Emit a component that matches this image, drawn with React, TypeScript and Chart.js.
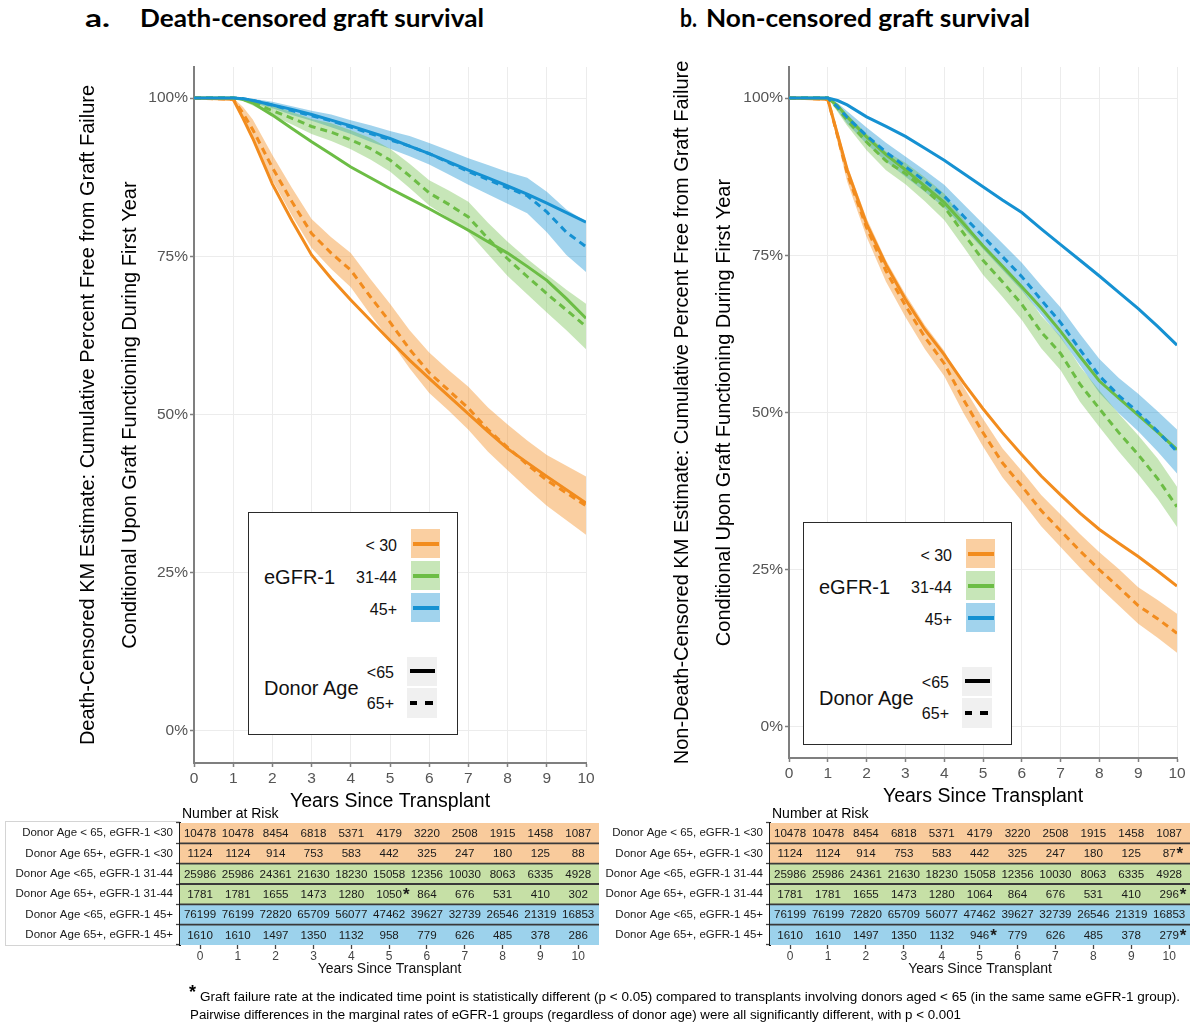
import React, { useEffect, useLayoutEffect, useRef } from 'react';
import { Chart, registerables } from 'chart.js';

Chart.register(...registerables);

const SANS = '"Liberation Sans", Arial, Helvetica, sans-serif';
const TITLE_FONT = 'Lato, "Open Sans", sans-serif';

// ---------------- data ----------------
const years = [0, 1, 1.25, 1.5, 2, 2.5, 3, 3.5, 4, 4.5, 5, 5.5, 6, 6.5, 7, 7.5, 8, 8.5, 9, 9.5, 10];
const axisYears = [0, 1, 2, 3, 4, 5, 6, 7, 8, 9, 10];
const pctTicks = [0, 25, 50, 75, 100];
const egfrLabels = ['< 30', '31-44', '45+'];
const donorAgeLabels = ['<65', '65+'];

// Panel a: death-censored graft survival (%)
const a_lt30_u65 = [100, 99.8, 96.8, 93.6, 86.4, 80.6, 75.2, 71.5, 68.1, 64.9, 61.7, 58.6, 55.7, 52.9, 50.1, 47.3, 44.6, 42.4, 40.2, 38.1, 36.0];
const a_lt30_65p = [100, 99.8, 97.6, 95.0, 89.0, 83.6, 78.6, 75.5, 72.8, 68.6, 64.6, 60.3, 56.6, 53.8, 51.0, 47.6, 44.8, 42.1, 39.6, 37.6, 35.6];
const a_lt30_65p_lo = [100, 99.6, 96.5, 93.4, 87.0, 81.4, 76.3, 73.0, 70.1, 65.8, 61.7, 57.3, 53.4, 50.6, 47.6, 44.1, 41.2, 38.3, 35.6, 33.3, 31.0];
const a_lt30_65p_hi = [100, 100, 98.6, 96.6, 91.0, 85.8, 80.9, 78.0, 75.5, 71.4, 67.5, 63.3, 59.8, 57.0, 54.4, 51.1, 48.4, 45.9, 43.6, 41.9, 40.2];

const a_mid_u65 = [100, 100, 99.8, 99.2, 97.3, 95.2, 93.1, 91.1, 89.1, 87.4, 85.7, 84.1, 82.5, 80.8, 79.1, 77.3, 75.5, 73.4, 71.2, 68.3, 65.2];
const a_mid_65p = [100, 100, 99.8, 99.3, 98.0, 96.8, 95.5, 94.6, 93.4, 92.0, 90.2, 87.7, 85.0, 83.2, 81.2, 77.8, 74.6, 71.8, 69.1, 66.5, 63.9];
const a_mid_65p_lo = [100, 100, 99.5, 98.8, 97.2, 95.8, 94.3, 93.2, 91.9, 90.3, 88.4, 85.8, 83.0, 81.0, 78.8, 75.3, 71.9, 69.0, 66.1, 63.3, 60.3];
const a_mid_65p_hi = [100, 100, 100, 99.8, 98.8, 97.8, 96.7, 96.0, 94.9, 93.7, 92.0, 89.6, 87.0, 85.4, 83.6, 80.3, 77.3, 74.6, 72.1, 69.7, 67.5];

const a_hi_u65 = [100, 100, 99.9, 99.6, 98.9, 98.2, 97.4, 96.5, 95.6, 94.6, 93.6, 92.4, 91.2, 89.9, 88.6, 87.4, 86.1, 84.8, 83.4, 81.9, 80.4];
const a_hi_65p = [100, 100, 99.9, 99.6, 98.9, 98.0, 97.2, 96.4, 95.4, 94.4, 93.4, 92.4, 91.2, 89.8, 88.4, 87.1, 85.8, 84.6, 82.0, 78.8, 76.5];
const a_hi_65p_lo = [100, 100, 99.7, 99.2, 98.4, 97.3, 96.4, 95.4, 94.3, 93.1, 92.0, 90.8, 89.5, 87.9, 86.3, 84.8, 83.3, 81.8, 78.8, 75.2, 72.5];
const a_hi_65p_hi = [100, 100, 100, 99.9, 99.4, 98.7, 98.0, 97.4, 96.5, 95.7, 94.8, 94.0, 92.9, 91.7, 90.5, 89.4, 88.3, 87.4, 85.2, 82.4, 80.5];

// Panel b: non-censored graft survival (%)
const b_lt30_u65 = [100, 99.8, 94.2, 88.6, 80.0, 73.5, 68.0, 63.2, 59.2, 54.7, 50.6, 46.8, 43.3, 39.9, 36.9, 34.0, 31.4, 29.2, 27.1, 24.8, 22.4];
const b_lt30_65p = [100, 99.8, 94.0, 88.0, 79.4, 72.5, 67.0, 62.0, 57.8, 52.0, 46.8, 42.0, 38.3, 34.4, 31.2, 28.0, 25.0, 22.2, 19.3, 17.2, 14.9];
const b_lt30_65p_lo = [100, 99.6, 93.0, 86.7, 77.9, 70.8, 65.2, 60.1, 55.8, 49.9, 44.6, 39.7, 35.9, 31.9, 28.6, 25.3, 22.2, 19.3, 16.4, 14.2, 11.8];
const b_lt30_65p_hi = [100, 100, 95.0, 89.3, 80.9, 74.2, 68.8, 63.9, 59.8, 54.1, 49.0, 44.3, 40.7, 36.9, 33.8, 30.7, 27.8, 25.1, 22.2, 20.2, 18.0];

const b_mid_u65 = [100, 100, 98.8, 97.0, 93.8, 91.0, 88.6, 86.0, 83.4, 80.0, 76.5, 73.3, 70.0, 66.6, 62.9, 58.9, 55.0, 52.3, 49.6, 46.9, 44.1];
const b_mid_65p = [100, 100, 98.4, 96.5, 93.0, 90.0, 88.0, 85.5, 82.7, 78.5, 74.2, 70.8, 67.2, 62.8, 59.4, 54.5, 50.6, 46.8, 43.3, 39.5, 35.0];
const b_mid_65p_lo = [100, 100, 97.8, 95.6, 91.7, 88.5, 86.3, 83.6, 80.6, 76.3, 71.9, 68.4, 64.7, 60.2, 56.7, 51.7, 47.7, 43.8, 40.2, 36.3, 31.8];
const b_mid_65p_hi = [100, 100, 99.0, 97.4, 94.3, 91.5, 89.7, 87.4, 84.8, 80.7, 76.5, 73.2, 69.7, 65.4, 62.1, 57.3, 53.5, 49.8, 46.4, 42.7, 38.2];

const b_hi_u65 = [100, 100, 99.6, 98.9, 97.0, 95.5, 93.9, 92.0, 90.1, 88.0, 85.9, 83.8, 81.8, 79.2, 76.7, 74.2, 71.7, 69.1, 66.5, 63.7, 60.7];
const b_hi_65p = [100, 100, 98.6, 96.9, 94.0, 91.4, 89.1, 86.8, 84.4, 81.2, 78.0, 74.8, 71.6, 67.9, 64.3, 60.0, 55.8, 52.7, 50.0, 47.0, 43.8];
const b_hi_65p_lo = [100, 100, 98.0, 95.9, 92.7, 89.9, 87.5, 85.1, 82.6, 79.3, 76.0, 72.7, 69.4, 65.6, 61.9, 57.5, 53.1, 49.9, 47.0, 43.8, 40.3];
const b_hi_65p_hi = [100, 100, 99.2, 97.9, 95.3, 92.9, 90.7, 88.5, 86.2, 83.1, 80.0, 76.9, 73.8, 70.2, 66.7, 62.5, 58.5, 55.5, 53.0, 50.2, 47.3];

// Number at risk tables
const riskRowLabels = [
  'Donor Age < 65, eGFR-1 <30',
  'Donor Age 65+, eGFR-1 <30',
  'Donor Age <65, eGFR-1 31-44',
  'Donor Age 65+, eGFR-1 31-44',
  'Donor Age <65, eGFR-1 45+',
  'Donor Age 65+, eGFR-1 45+',
];
const riskA_lt30_u65 = [10478, 10478, 8454, 6818, 5371, 4179, 3220, 2508, 1915, 1458, 1087];
const riskA_lt30_65p = [1124, 1124, 914, 753, 583, 442, 325, 247, 180, 125, 88];
const riskA_mid_u65 = [25986, 25986, 24361, 21630, 18230, 15058, 12356, 10030, 8063, 6335, 4928];
const riskA_mid_65p = [1781, 1781, 1655, 1473, 1280, 1050, 864, 676, 531, 410, 302];
const riskA_hi_u65 = [76199, 76199, 72820, 65709, 56077, 47462, 39627, 32739, 26546, 21319, 16853];
const riskA_hi_65p = [1610, 1610, 1497, 1350, 1132, 958, 779, 626, 485, 378, 286];
const riskA_stars = [[3, 5]];

const riskB_lt30_u65 = [10478, 10478, 8454, 6818, 5371, 4179, 3220, 2508, 1915, 1458, 1087];
const riskB_lt30_65p = [1124, 1124, 914, 753, 583, 442, 325, 247, 180, 125, 87];
const riskB_mid_u65 = [25986, 25986, 24361, 21630, 18230, 15058, 12356, 10030, 8063, 6335, 4928];
const riskB_mid_65p = [1781, 1781, 1655, 1473, 1280, 1064, 864, 676, 531, 410, 296];
const riskB_hi_u65 = [76199, 76199, 72820, 65709, 56077, 47462, 39627, 32739, 26546, 21319, 16853];
const riskB_hi_65p = [1610, 1610, 1497, 1350, 1132, 946, 779, 626, 485, 378, 279];
const riskB_stars = [[1, 10], [3, 10], [5, 5], [5, 10]];

// ---------------- styles ----------------
const LINE = ['#F28C1E', '#6CBD45', '#1591D2'];
const BAND = ['rgba(242,140,30,0.42)', 'rgba(108,189,69,0.38)', 'rgba(21,145,210,0.40)'];
const ROWBG = ['#F9CB9C', '#F9CB9C', '#C6E0A6', '#C6E0A6', '#9CD2EC', '#9CD2EC'];

type Group = { color: string; band: string; solid: number[]; dashed: number[]; lower: number[]; upper: number[] };

const groupsA: Group[] = [
  { color: LINE[0], band: BAND[0], solid: a_lt30_u65, dashed: a_lt30_65p, lower: a_lt30_65p_lo, upper: a_lt30_65p_hi },
  { color: LINE[1], band: BAND[1], solid: a_mid_u65, dashed: a_mid_65p, lower: a_mid_65p_lo, upper: a_mid_65p_hi },
  { color: LINE[2], band: BAND[2], solid: a_hi_u65, dashed: a_hi_65p, lower: a_hi_65p_lo, upper: a_hi_65p_hi },
];
const groupsB: Group[] = [
  { color: LINE[0], band: BAND[0], solid: b_lt30_u65, dashed: b_lt30_65p, lower: b_lt30_65p_lo, upper: b_lt30_65p_hi },
  { color: LINE[1], band: BAND[1], solid: b_mid_u65, dashed: b_mid_65p, lower: b_mid_65p_lo, upper: b_mid_65p_hi },
  { color: LINE[2], band: BAND[2], solid: b_hi_u65, dashed: b_hi_65p, lower: b_hi_65p_lo, upper: b_hi_65p_hi },
];

// ---------------- components ----------------
function FitText(props: { text: string; x: number; cy: number; w?: number; size: number; weight?: number; family?: string; color?: string }) {
  const { text, x, cy, w, size, weight = 400, family = SANS, color = '#000' } = props;
  const ref = useRef<HTMLDivElement>(null);
  useLayoutEffect(() => {
    const el = ref.current;
    if (!el || !w) return;
    el.style.transform = 'none';
    const nat = el.getBoundingClientRect().width;
    if (nat > 0) el.style.transform = `scaleX(${w / nat})`;
  }, [text, w]);
  const h = Math.round(size * 1.3);
  return (
    <div
      ref={ref}
      style={{
        position: 'absolute', left: x, top: cy - h / 2, height: h, lineHeight: h + 'px',
        fontSize: size, fontWeight: weight, fontFamily: family, color, whiteSpace: 'nowrap',
        transformOrigin: 'left center',
      }}
    >
      {text}
    </div>
  );
}

type KMGeo = {
  left: number; top: number; width: number; height: number;
  padTop: number; padRight: number; yW: number; xH: number;
  yMin: number; yMax: number; yTitlePad: number; xTitlePad: number;
};

function KMChart({ groups, yTitle, geo }: { groups: Group[]; yTitle: string[]; geo: KMGeo }) {
  const ref = useRef<HTMLCanvasElement>(null);
  useEffect(() => {
    const pts = (arr: number[]) => arr.map((v, i) => ({ x: years[i], y: v }));
    const datasets: any[] = [];
    groups.forEach((g) => {
      datasets.push({ data: pts(g.lower), borderWidth: 0, borderColor: 'rgba(0,0,0,0)', backgroundColor: 'rgba(0,0,0,0)', pointRadius: 0, fill: false, order: 20 });
      datasets.push({ data: pts(g.upper), borderWidth: 0, borderColor: 'rgba(0,0,0,0)', backgroundColor: g.band, pointRadius: 0, fill: '-1', order: 20 });
    });
    groups.forEach((g, i) => {
      datasets.push({ data: pts(g.solid), borderColor: g.color, borderWidth: 3, pointRadius: 0, fill: false, order: 10 - i, tension: 0 });
    });
    groups.forEach((g, i) => {
      datasets.push({ data: pts(g.dashed), borderColor: g.color, borderWidth: 3, borderDash: [7, 5], pointRadius: 0, fill: false, order: 5 - i, tension: 0 });
    });
    const chart = new Chart(ref.current as HTMLCanvasElement, {
      type: 'line',
      data: { datasets },
      options: {
        animation: false,
        responsive: false,
        events: [],
        layout: { padding: { left: 0, top: geo.padTop, right: geo.padRight, bottom: 0 } },
        plugins: { legend: { display: false }, tooltip: { enabled: false }, title: { display: false } },
        scales: {
          x: {
            type: 'linear', min: 0, max: 10,
            afterBuildTicks: (s: any) => { s.ticks = axisYears.map((v) => ({ value: v })); },
            afterFit: (s: any) => { s.height = geo.xH; },
            grid: { color: '#ececec', lineWidth: 1, tickColor: '#7f7f7f', tickLength: 4, tickWidth: 1.5 },
            border: { color: '#7f7f7f', width: 2 },
            ticks: { font: { family: SANS, size: 15.5 }, color: '#555', padding: 2, maxRotation: 0, autoSkip: false },
            title: { display: true, text: 'Years Since Transplant', font: { family: SANS, size: 19.5 }, color: '#000', padding: { top: 0, bottom: geo.xTitlePad } },
          },
          y: {
            type: 'linear', min: geo.yMin, max: geo.yMax,
            afterBuildTicks: (s: any) => { s.ticks = pctTicks.map((v) => ({ value: v })); },
            afterFit: (s: any) => { s.width = geo.yW; },
            grid: { color: '#ececec', lineWidth: 1, tickColor: '#7f7f7f', tickLength: 4, tickWidth: 1.5 },
            border: { color: '#7f7f7f', width: 2 },
            ticks: { font: { family: SANS, size: 15.5 }, color: '#555', padding: 2, callback: (v: any) => v + '%' },
            title: { display: true, text: yTitle, font: { family: SANS, size: 20, lineHeight: 2.1 }, color: '#000', padding: { top: geo.yTitlePad, bottom: 0 } },
          },
        },
      } as any,
    });
    return () => chart.destroy();
  }, []);
  return (
    <canvas
      ref={ref}
      width={geo.width}
      height={geo.height}
      style={{ position: 'absolute', left: geo.left, top: geo.top, width: geo.width, height: geo.height }}
    />
  );
}

type TableGeo = { left: number; top: number; width: number; height: number; padTop: number; padRight: number; yW: number; xH: number; titlePad: number };
const tableMin = -0.53;
const tableMax = 10.55;

function RiskTable({ rows, stars, geo }: { rows: number[][]; stars: number[][]; geo: TableGeo }) {
  const ref = useRef<HTMLCanvasElement>(null);
  useEffect(() => {
    const numbers = {
      id: 'riskNumbers',
      afterDatasetsDraw(chart: any) {
        const { ctx, chartArea } = chart;
        const x = chart.scales.x;
        const y = chart.scales.y;
        ctx.save();
        ctx.strokeStyle = '#3a3a3a';
        ctx.lineWidth = 1.8;
        for (let r = 0; r < rows.length - 1; r++) {
          const yy = (y.getPixelForValue(r) + y.getPixelForValue(r + 1)) / 2;
          ctx.beginPath();
          ctx.moveTo(chartArea.left, yy);
          ctx.lineTo(chartArea.right, yy);
          ctx.stroke();
        }
        ctx.fillStyle = '#1a1a1a';
        ctx.textBaseline = 'middle';
        rows.forEach((row, r) => {
          row.forEach((n, c) => {
            ctx.font = `11.6px ${SANS}`;
            ctx.textAlign = 'center';
            ctx.fillText(String(n), x.getPixelForValue(axisYears[c]), y.getPixelForValue(r) + 0.5);
          });
        });
        stars.forEach(([r, c]) => {
          ctx.font = `11.6px ${SANS}`;
          const w = ctx.measureText(String(rows[r][c])).width;
          ctx.font = `bold 17px ${SANS}`;
          ctx.textAlign = 'left';
          ctx.fillText('*', x.getPixelForValue(axisYears[c]) + w / 2 + 1, y.getPixelForValue(r) + 1);
        });
        ctx.restore();
      },
    };
    const chart = new Chart(ref.current as HTMLCanvasElement, {
      type: 'bar',
      data: {
        labels: riskRowLabels,
        datasets: [{
          data: rows.map(() => [tableMin, tableMax]),
          backgroundColor: ROWBG,
          borderWidth: 0,
          barPercentage: 1,
          categoryPercentage: 1,
        }],
      },
      options: {
        indexAxis: 'y',
        animation: false,
        responsive: false,
        events: [],
        layout: { padding: { left: 0, top: geo.padTop, right: geo.padRight, bottom: 0 } },
        plugins: { legend: { display: false }, tooltip: { enabled: false } },
        scales: {
          x: {
            type: 'linear', min: tableMin, max: tableMax,
            afterBuildTicks: (s: any) => { s.ticks = axisYears.map((v) => ({ value: v })); },
            afterFit: (s: any) => { s.height = geo.xH; },
            grid: { drawOnChartArea: false, drawTicks: true, tickLength: 4, tickColor: '#444', tickWidth: 1.3 },
            border: { display: false },
            ticks: { font: { family: SANS, size: 12 }, color: '#444', padding: 0, maxRotation: 0, autoSkip: false },
            title: { display: true, text: 'Years Since Transplant', font: { family: SANS, size: 14 }, color: '#111', padding: { top: 0, bottom: geo.titlePad } },
          },
          y: {
            type: 'category',
            afterFit: (s: any) => { s.width = geo.yW; },
            grid: { drawOnChartArea: false, drawTicks: true, tickLength: 4, tickColor: '#444', tickWidth: 1.3 },
            border: { color: '#1a1a1a', width: 2 },
            ticks: { font: { family: SANS, size: 11.5 }, color: '#1a1a1a', padding: 3, autoSkip: false },
          },
        },
      } as any,
      plugins: [numbers],
    });
    return () => chart.destroy();
  }, []);
  return (
    <canvas
      ref={ref}
      width={geo.width}
      height={geo.height}
      style={{ position: 'absolute', left: geo.left, top: geo.top, width: geo.width, height: geo.height }}
    />
  );
}

function KMLegend({ x, y, w, h }: { x: number; y: number; w: number; h: number }) {
  const swTops = [17.5, 49.5, 81.5];
  const keyTops = [145, 176.5];
  const txt = (content: string, right: number, cy: number, size: number) => (
    <div style={{ position: 'absolute', right: w - right, top: cy - size * 0.65, height: size * 1.3, lineHeight: size * 1.3 + 'px', fontSize: size, whiteSpace: 'nowrap', textAlign: 'right' }}>{content}</div>
  );
  return (
    <div style={{ position: 'absolute', left: x, top: y, width: w, height: h, border: '1.5px solid #2a2a2a', background: '#fff', boxSizing: 'border-box', fontFamily: SANS, color: '#111' }}>
      <div style={{ position: 'absolute', left: 15, top: 64 - 13, height: 26, lineHeight: '26px', fontSize: 20, whiteSpace: 'nowrap' }}>eGFR-1</div>
      {egfrLabels.map((lab, i) => (
        <React.Fragment key={lab}>
          {txt(lab, 150, swTops[i] + 15.5, 16)}
          <div style={{ position: 'absolute', left: 162, top: swTops[i] - 1.5, width: 29, height: 29, background: BAND[i] }}>
            <div style={{ position: 'absolute', left: 1.5, right: 1.5, top: 13, height: 3.5, background: LINE[i] }} />
          </div>
        </React.Fragment>
      ))}
      <div style={{ position: 'absolute', left: 15, top: 175 - 13, height: 26, lineHeight: '26px', fontSize: 20, whiteSpace: 'nowrap' }}>Donor Age</div>
      {donorAgeLabels.map((lab, i) => (
        <React.Fragment key={lab}>
          {txt(lab, 147, keyTops[i] + 15, 16)}
          <div style={{ position: 'absolute', left: 158, top: keyTops[i] - 1.5, width: 30, height: 29.5, background: '#F0F0F0' }}>
            {i === 0 ? (
              <div style={{ position: 'absolute', left: 2.5, width: 25, top: 12.5, height: 3.5, background: '#000' }} />
            ) : (
              <>
                <div style={{ position: 'absolute', left: 2.5, width: 7, top: 13, height: 3.5, background: '#000' }} />
                <div style={{ position: 'absolute', left: 17.5, width: 8, top: 13, height: 3.5, background: '#000' }} />
              </>
            )}
          </div>
        </React.Fragment>
      ))}
    </div>
  );
}

export default function App() {
  useEffect(() => {
    document.body.style.margin = '0';
  }, []);

  const geoA: KMGeo = {
    left: 0, top: 50, width: 600, height: 770,
    padTop: 17, padRight: 14, yW: 194, xH: 57,
    yMin: -5.06, yMax: 104.9, yTitlePad: 67, xTitlePad: 6.3,
  };
  const geoB: KMGeo = {
    left: 597, top: 50, width: 597, height: 770,
    padTop: 17, padRight: 17, yW: 192, xH: 62,
    yMin: -4.93, yMax: 104.93, yTitlePad: 64, xTitlePad: 11.3,
  };
  const tGeoA: TableGeo = { left: 0, top: 800, width: 600, height: 186, padTop: 23, padRight: 1, yW: 180, xH: 41, titlePad: 8.6 };
  const tGeoB: TableGeo = { left: 597, top: 800, width: 597, height: 186, padTop: 23, padRight: 4, yW: 173, xH: 41, titlePad: 8.6 };

  const rowsA = [riskA_lt30_u65, riskA_lt30_65p, riskA_mid_u65, riskA_mid_65p, riskA_hi_u65, riskA_hi_65p];
  const rowsB = [riskB_lt30_u65, riskB_lt30_65p, riskB_mid_u65, riskB_mid_65p, riskB_hi_u65, riskB_hi_65p];

  return (
    <div style={{ position: 'absolute', left: 0, top: 0, width: 1194, height: 1026, background: '#fff', overflow: 'hidden' }}>
      <FitText text="a." x={85} cy={17} w={25} size={24} weight={700} family={TITLE_FONT} />
      <FitText text="Death-censored graft survival" x={140} cy={17} w={344} size={24} weight={700} family={TITLE_FONT} />
      <FitText text="b." x={680} cy={17} w={17} size={24} weight={700} family={TITLE_FONT} />
      <FitText text="Non-censored graft survival" x={706} cy={17} w={324} size={24} weight={700} family={TITLE_FONT} />

      <div style={{ position: 'absolute', left: 5, top: 821, width: 175, height: 125, border: '1px solid #d4d4d4', boxSizing: 'border-box' }} />

      <KMChart
        groups={groupsA}
        yTitle={['Death-Censored KM Estimate: Cumulative Percent Free from Graft Failure', 'Conditional Upon Graft Functioning During First Year']}
        geo={geoA}
      />
      <KMChart
        groups={groupsB}
        yTitle={['Non-Death-Censored KM Estimate: Cumulative Percent Free from Graft Failure', 'Conditional Upon Graft Functioning During First Year']}
        geo={geoB}
      />

      <KMLegend x={248} y={512} w={210} h={223} />
      <KMLegend x={803} y={522} w={209} h={223} />

      <RiskTable rows={rowsA} stars={riskA_stars} geo={tGeoA} />
      <RiskTable rows={rowsB} stars={riskB_stars} geo={tGeoB} />

      <FitText text="Number at Risk" x={182} cy={813} size={14} />
      <FitText text="Number at Risk" x={772} cy={813} size={14} />

      <FitText text="*" x={189} cy={992} size={18} weight={700} />
      <FitText
        text="Graft failure rate at the indicated time point is statistically different (p < 0.05) compared to transplants involving donors aged < 65 (in the same same eGFR-1 group)."
        x={200} cy={997} w={980} size={12.5}
      />
      <FitText
        text="Pairwise differences in the marginal rates of eGFR-1 groups (regardless of donor age) were all significantly different, with p < 0.001"
        x={190} cy={1015} w={771} size={12.5}
      />
    </div>
  );
}
